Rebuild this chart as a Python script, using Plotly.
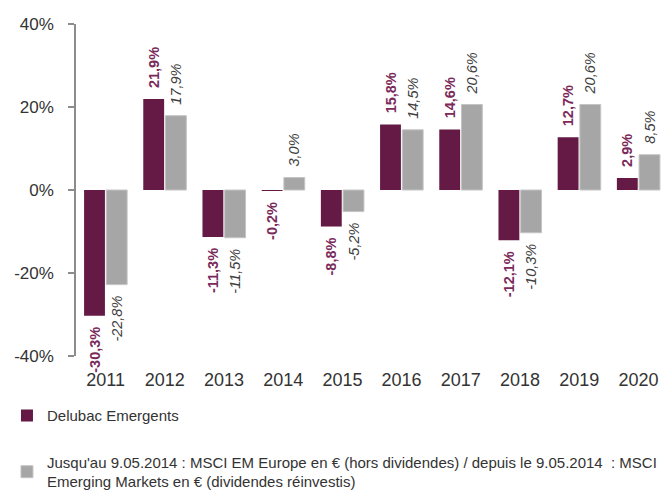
import plotly.graph_objects as go

years = ["2011", "2012", "2013", "2014", "2015", "2016", "2017", "2018", "2019", "2020"]
delubac = [-30.3, 21.9, -11.3, -0.2, -8.8, 15.8, 14.6, -12.1, 12.7, 2.9]
msci = [-22.8, 17.9, -11.5, 3.0, -5.2, 14.5, 20.6, -10.3, 20.6, 8.5]
y_ticks = [-40, -20, 0, 20, 40]
name_a = "Delubac Emergents"
name_b = ("Jusqu'au 9.05.2014 : MSCI EM Europe en € (hors dividendes) / depuis le 9.05.2014  : MSCI<br>"
          "Emerging Markets en € (dividendes réinvestis)")

NB = "\u00a0\u00a0"

def fmt(v):
    s = f"{v:.1f}%".replace(".", ",")
    # small padding on the side facing the bar (text reads bottom-to-top)
    return NB + s if v >= 0 else s + NB

PURPLE = "#641a44"
GREY = "#a6a6a6"
AXIS = "#8c8c8c"
FONT = "Liberation Sans, Arial, sans-serif"

fig = go.Figure()
fig.add_trace(go.Bar(
    x=years, y=delubac, name=name_a, legendgroup="a",
    marker=dict(color=PURPLE, line=dict(width=0)),
    text=[fmt(v) for v in delubac], textposition="outside", textangle=-90,
    constraintext="none",
    textfont=dict(color="#7a2a5a", size=14.5, family=FONT, weight="bold"),
    cliponaxis=False,
))
fig.add_trace(go.Bar(
    x=years, y=msci, name=name_b, legendgroup="b",
    marker=dict(color=GREY, line=dict(color="#c4c4c4", width=1)),
    text=[fmt(v) for v in msci], textposition="outside", textangle=-90,
    constraintext="none",
    textfont=dict(color="#404040", size=14.5, family=FONT, style="italic"),
    cliponaxis=False,
))

fig.update_layout(
    width=661, height=482,
    margin=dict(l=68, r=1, t=16, b=134, autoexpand=False),
    paper_bgcolor="white", plot_bgcolor="white",
    barmode="group", bargap=0.25, bargroupgap=0.06,
    font=dict(family=FONT, color="#333333"),
    legend=dict(
        x=-0.1166, y=-0.130, xanchor="left", yanchor="top",
        orientation="v", traceorder="grouped", tracegroupgap=24,
        font=dict(size=15, family=FONT, color="#333333"),
        itemwidth=30, bgcolor="rgba(0,0,0,0)",
    ),
    showlegend=True,
    xaxis=dict(
        showline=False, showgrid=False, ticks="",
        ticklabelstandoff=11,
        tickfont=dict(size=18, family=FONT, color="#333333"),
    ),
    xaxis2=dict(
        overlaying="x", anchor="free", position=0.5, type="linear",
        range=[-0.5, len(years) - 0.5], tickmode="linear", tick0=0.5, dtick=1,
        showline=True, linecolor=AXIS, linewidth=1.5,
        ticks="outside", ticklen=5, tickcolor=AXIS, tickwidth=1.5,
        showticklabels=False, showgrid=False, zeroline=False,
    ),
    yaxis=dict(
        range=[-40, 40], tickvals=y_ticks, ticktext=[f"{v}%" for v in y_ticks],
        showgrid=False, zeroline=False,
        showline=True, linecolor=AXIS, linewidth=1.5,
        ticks="outside", ticklen=6, tickcolor=AXIS, tickwidth=1.5,
        ticklabelstandoff=11,
        tickfont=dict(size=17, family=FONT, color="#333333"),
    ),
)

fig.write_html("out.html")
